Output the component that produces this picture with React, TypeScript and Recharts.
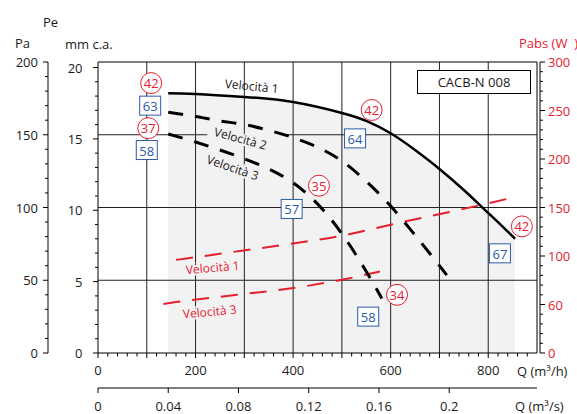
import React from "react";
import {
  ComposedChart,
  Line,
  Area,
  XAxis,
  YAxis,
  ReferenceLine,
  ReferenceDot,
} from "recharts";

const FONT = "'Open Sans', 'DejaVu Sans', sans-serif";
const RED = "#e4202e";
const BLUE = "#2a5ca8";
const INK = "#1a1a1a";

// pressure curves, Q in m3/h, Pe in Pa
const v1Q = [144, 200, 300, 400, 500, 550, 600, 650, 700, 750, 785, 820, 855];
const v1P = [178.5, 178, 176, 172.5, 165, 159.5, 151, 139.5, 126.5, 112, 101, 90, 78.5];
const v2Q = [144, 200, 250, 300, 350, 400, 450, 500, 550, 600, 650, 700, 715];
const v2P = [165.5, 162.5, 159.5, 157, 153, 148, 141.5, 132, 118, 101, 81, 60, 53.5];
const v3Q = [144, 200, 250, 300, 350, 400, 450, 500, 550, 582];
const v3P = [150.5, 145, 139.5, 133.5, 126.5, 117, 102.5, 82, 56, 37.5];

// absorbed power, W
const w1Q = [160, 260, 380, 500, 620, 740, 840];
const w1W = [96, 103, 111.5, 121, 134.5, 147.5, 159];
const w3Q = [134, 160, 285, 400, 500, 578];
const w3W = [50.5, 52.5, 60, 67, 75.5, 84];

// red circled tags and blue boxed tags (Q, Pa, text)
const circleQ = [109, 103, 561, 453, 613, 869];
const circleP = [185.5, 154.5, 167, 115, 40, 87];
const circleT = ["42", "37", "42", "35", "34", "42"];
const boxQ = [107, 100, 527, 397, 554, 824];
const boxP = [170, 139.5, 147.5, 99, 25, 68.5];
const boxT = ["63", "58", "64", "57", "58", "67"];

// curve names
const nameQ = [315, 292, 276, 235, 229];
const nameP = [183.5, 147.5, 127.5, 58.8, 28.5];
const nameT = ["Velocità 1", "Velocità 2", "Velocità 3", "Velocità 1", "Velocità 3"];
const nameAngle = [5.5, 15, 19, -5, -5];
const nameRed = [false, false, false, true, true];

const qhLabels = [0, 200, 400, 600, 800];
const qsTicks = [0, 0.04, 0.08, 0.12, 0.16, 0.2]; // m3/s
const qsLabels = ["0", "0.04", "0.08", "0.12", "0.16", "0.2"];
const paLabels = [0, 50, 100, 150, 200];
const mmLabels = [0, 5, 10, 15, 20];
const wMajor = [0, 50, 100, 150, 200, 250, 300];
const wLabels = ["0", "60", "100", "150", "200", "250", "300"];
const gridQ = [100, 200, 300, 400, 500, 600, 700, 800];

const range = (a: number, b: number, s: number) =>
  Array.from({ length: Math.round((b - a) / s) + 1 }, (_, i) => a + i * s);

const zip = (q: number[], v: number[], key: string) =>
  q.map((x, i) => ({ q: x, [key]: v[i] }));

const v1 = zip(v1Q, v1P, "p");
const v2 = zip(v2Q, v2P, "p");
const v3 = zip(v3Q, v3P, "p");
const w1 = zip(w1Q, w1W, "w");
const w3 = zip(w3Q, w3W, "w");

const txt = { fontFamily: FONT, fontSize: 13, fill: INK };

function QhTick({ x, y, payload }: any) {
  const v = payload.value;
  return (
    <g>
      <line x1={x} x2={x} y1={y} y2={y + (v % 100 === 0 ? 5 : 3.5)} stroke="#000" />
      {qhLabels.includes(v) && (
        <text x={x} y={y + 17} textAnchor="middle" dominantBaseline="central" {...txt}>
          {v}
        </text>
      )}
    </g>
  );
}

function QsTick({ x, y, payload }: any) {
  const i = qsTicks.findIndex((t) => Math.abs(t * 3600 - payload.value) < 0.5);
  return (
    <g>
      <line x1={x} x2={x} y1={y} y2={y + 5} stroke="#000" />
      <text x={x} y={y + 17.5} textAnchor="middle" dominantBaseline="central" {...txt}>
        {i >= 0 ? qsLabels[i] : ""}
      </text>
    </g>
  );
}

function PaTick({ x, y, payload }: any) {
  const v = payload.value;
  const major = paLabels.includes(v);
  return (
    <g>
      <line x1={x} x2={x - (major ? 5 : 3)} y1={y} y2={y} stroke="#000" />
      {major && (
        <text x={x - 10} y={y} textAnchor="end" dominantBaseline="central" {...txt}>
          {v}
        </text>
      )}
    </g>
  );
}

function MmTick({ x, y, payload }: any) {
  const v = payload.value;
  const major = mmLabels.includes(v);
  return (
    <g>
      <line x1={x} x2={x - (major ? 5 : 3)} y1={y} y2={y} stroke="#000" />
      {major && (
        <text x={x - 15.5} y={y} textAnchor="end" dominantBaseline="central" {...txt}>
          {v}
        </text>
      )}
    </g>
  );
}

function WTick({ x, y, payload }: any) {
  const v = payload.value;
  const i = wMajor.indexOf(v);
  return (
    <g>
      <line x1={x} x2={x + (i >= 0 ? 5 : 3)} y1={y} y2={y} stroke="#000" />
      {i >= 0 && (
        <text x={x + 8} y={y} textAnchor="start" dominantBaseline="central" {...txt} fill={RED}>
          {wLabels[i]}
        </text>
      )}
    </g>
  );
}

const circleShape = (t: string) => (p: any) => (
  <g>
    <circle cx={p.cx} cy={p.cy} r={10.5} fill="#fff" stroke={RED} strokeWidth={1} />
    <text x={p.cx} y={p.cy} textAnchor="middle" dominantBaseline="central" {...txt} fill={RED}>
      {t}
    </text>
  </g>
);

const boxShape = (t: string) => (p: any) => (
  <g>
    <rect x={p.cx - 10.5} y={p.cy - 9.5} width={21} height={19} fill="#fff" stroke={BLUE} strokeWidth={1} />
    <text x={p.cx} y={p.cy + 0.5} textAnchor="middle" dominantBaseline="central" {...txt} fill={BLUE}>
      {t}
    </text>
  </g>
);

const nameShape = (i: number) => (p: any) => (
  <text
    x={p.cx}
    y={p.cy}
    textAnchor="middle"
    dominantBaseline="central"
    transform={`rotate(${nameAngle[i]} ${p.cx} ${p.cy})`}
    fontFamily={FONT}
    fontSize={12}
    fill={nameRed[i] ? RED : INK}
    stroke={i === 0 ? "none" : "#f2f2f2"}
    strokeWidth={4}
    paintOrder="stroke"
  >
    {nameT[i]}
  </text>
);

const ids = { xAxisId: "q", yAxisId: "pa" };

export default function App() {
  return (
    <div style={{ position: "fixed", left: 0, top: 0, width: 577, height: 414, background: "#fff" }}>
      <ComposedChart width={577} height={414} margin={{ top: 62, right: 0, bottom: 0, left: 0 }}>
        <XAxis
          xAxisId="q"
          type="number"
          dataKey="q"
          domain={[0, 900]}
          ticks={range(0, 880, 20)}
          interval={0}
          tick={<QhTick />}
          tickSize={0}
          tickMargin={0}
          tickLine={false}
          axisLine={{ stroke: "#000" }}
          height={35}
          allowDataOverflow
        />
        {/* same flow scale, labelled in m3/s */}
        <XAxis
          xAxisId="s"
          type="number"
          dataKey="q"
          domain={[0, 900]}
          ticks={qsTicks.map((t) => t * 3600)}
          interval={0}
          tick={<QsTick />}
          tickSize={0}
          tickMargin={0}
          tickLine={false}
          axisLine={{ stroke: "#000" }}
          height={26}
          allowDataOverflow
        />
        <YAxis
          yAxisId="mm"
          type="number"
          domain={[0, 200 / 9.81]}
          ticks={range(0, 20, 1)}
          interval={0}
          tick={<MmTick />}
          tickSize={0}
          tickMargin={0}
          tickLine={false}
          axisLine={{ stroke: "#000" }}
          width={50}
          allowDataOverflow
        />
        <YAxis
          yAxisId="pa"
          type="number"
          domain={[0, 200]}
          ticks={range(0, 200, 10)}
          interval={0}
          tick={<PaTick />}
          tickSize={0}
          tickMargin={0}
          tickLine={false}
          axisLine={{ stroke: "#000" }}
          width={48}
          allowDataOverflow
        />
        <YAxis yAxisId="sp" orientation="right" domain={[0, 1]} width={3} tick={false} tickLine={false} axisLine={false} />
        <YAxis
          yAxisId="w"
          orientation="right"
          type="number"
          domain={[0, 300]}
          ticks={range(0, 300, 10)}
          interval={0}
          tick={<WTick />}
          tickSize={0}
          tickMargin={0}
          tickLine={false}
          axisLine={{ stroke: "#000" }}
          width={37}
          allowDataOverflow
        />

        <Area
          {...ids}
          data={v1}
          dataKey="p"
          type="natural"
          stroke="none"
          fill="#f2f2f2"
          fillOpacity={1}
          isAnimationActive={false}
        />

        {gridQ.map((q) => (
          <ReferenceLine key={"gx" + q} {...ids} x={q} stroke="#222" strokeWidth={1} />
        ))}
        <ReferenceLine {...ids} y={50} stroke="#222" />
        <ReferenceLine {...ids} y={100} stroke="#222" />
        <ReferenceLine {...ids} segment={[{ x: 0, y: 150 }, { x: 224, y: 150 }]} stroke="#222" />
        <ReferenceLine {...ids} segment={[{ x: 386, y: 150 }, { x: 900, y: 150 }]} stroke="#222" />
        <ReferenceLine {...ids} y={200} stroke="#000" />
        <ReferenceLine {...ids} x={900} stroke="#000" />

        <Line xAxisId="q" yAxisId="w" data={w1} dataKey="w" type="monotone" stroke={RED} strokeWidth={2} strokeDasharray="17 12" dot={false} isAnimationActive={false} />
        <Line xAxisId="q" yAxisId="w" data={w3} dataKey="w" type="monotone" stroke={RED} strokeWidth={2} strokeDasharray="17 12" dot={false} isAnimationActive={false} />
        <Line {...ids} data={v3} dataKey="p" type="monotone" stroke="#000" strokeWidth={3} strokeDasharray="15 12" dot={false} isAnimationActive={false} />
        <Line {...ids} data={v2} dataKey="p" type="monotone" stroke="#000" strokeWidth={3} strokeDasharray="15 12" dot={false} isAnimationActive={false} />
        <Line {...ids} data={v1} dataKey="p" type="natural" stroke="#000" strokeWidth={2.5} dot={false} isAnimationActive={false} />

        {nameT.map((_, i) => (
          <ReferenceDot key={"n" + i} {...ids} x={nameQ[i]} y={nameP[i]} r={0} shape={nameShape(i)} />
        ))}
        {circleT.map((t, i) => (
          <ReferenceDot key={"c" + i} {...ids} x={circleQ[i]} y={circleP[i]} r={10} shape={circleShape(t)} />
        ))}
        {boxT.map((t, i) => (
          <ReferenceDot key={"b" + i} {...ids} x={boxQ[i]} y={boxP[i]} r={10} shape={boxShape(t)} />
        ))}
      </ComposedChart>

      <svg
        width={577}
        height={414}
        style={{ position: "absolute", left: 0, top: 0, pointerEvents: "none" }}
      >
        <g fontFamily={FONT} fontSize={13} fill={INK} dominantBaseline="central">
          <text x={43} y={22}>Pe</text>
          <text x={15} y={43}>Pa</text>
          <text x={65} y={44}>mm c.a.</text>
          <text x={519} y={43} fill={RED} style={{ whiteSpace: "pre" }}>
            {"Pabs (W  )"}
          </text>
          <text x={517} y={371}>Q (m³/h)</text>
          <text x={515} y={405.5}>Q (m³/s)</text>
          <rect x={417.5} y={70.5} width={113} height={23} fill="#fff" stroke="#000" />
          <text x={474} y={82} textAnchor="middle">CACB-N 008</text>
        </g>
      </svg>
    </div>
  );
}
